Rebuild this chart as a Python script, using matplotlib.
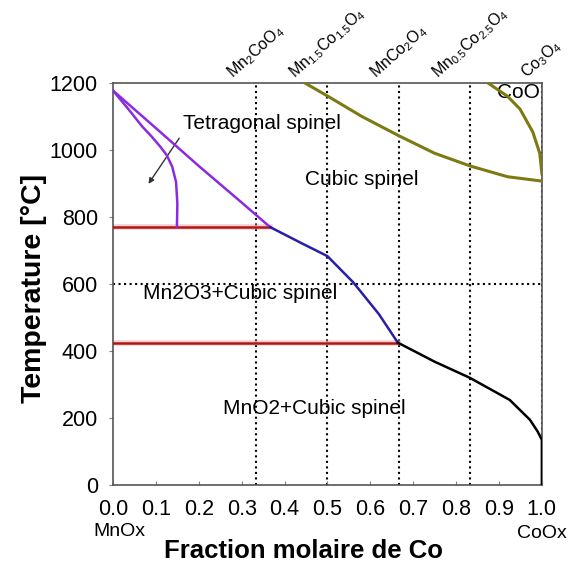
import matplotlib.pyplot as plt

plt.rcParams['font.family'] = ['Liberation Sans', 'DejaVu Sans']
plt.rcParams['mathtext.fontset'] = 'custom'
plt.rcParams['mathtext.rm'] = 'Liberation Sans'
plt.rcParams['mathtext.it'] = 'Liberation Sans:italic'
plt.rcParams['mathtext.bf'] = 'Liberation Sans:bold'

# phase boundaries (x = Co fraction, y = temperature in degC)
tetra_upper_x = [0.0, 0.10, 0.20, 0.30, 0.366]
tetra_upper_y = [1177, 1065, 952, 843, 770]
tetra_lower_x = [0.0, 0.035, 0.068, 0.09, 0.11, 0.125, 0.138, 0.147, 0.150, 0.149]
tetra_lower_y = [1177, 1123, 1070, 1040, 1010, 985, 950, 904, 840, 770]
spinel_x = [0.366, 0.436, 0.50, 0.56, 0.62, 0.664]
spinel_y = [770, 724, 683, 605, 510, 425]
low_x = [0.664, 0.75, 0.832, 0.925, 0.972, 0.99, 1.0, 1.0]
low_y = [425, 368, 320, 254, 195, 160, 135, 0]
coo1_x = [0.447, 0.50, 0.58, 0.667, 0.75, 0.833, 0.92, 1.0]
coo1_y = [1200, 1161, 1100, 1042, 990, 952, 920, 907]
coo2_x = [0.874, 0.92, 0.949, 0.979, 0.995, 1.0]
coo2_y = [1200, 1160, 1122, 1053, 990, 930]

eutectoid_T = [770, 425]
eutectoid_end = [0.366, 0.664]

compound_x = [1/3, 0.5, 2/3, 5/6, 1.0]
compound_labels = [r'Mn$_2$CoO$_4$', r'Mn$_{1.5}$Co$_{1.5}$O$_4$', r'MnCo$_2$O$_4$',
                   r'Mn$_{0.5}$Co$_{2.5}$O$_4$', r'Co$_3$O$_4$']

fig = plt.figure(figsize=(5.68, 5.64), dpi=100)
ax = fig.add_axes([0.199, 0.140, 0.755, 0.713])

for x in compound_x:
    ax.axvline(x, color='black', ls=':', lw=1.5, zorder=1)
ax.axhline(600, color='black', ls=':', lw=1.5, zorder=1)

for T, xe in zip(eutectoid_T, eutectoid_end):
    ax.plot([0, xe], [T, T], color='#f4a0a0', lw=4, alpha=0.5, zorder=2)
    ax.plot([0, xe], [T, T], color='#b01818', lw=1.8, zorder=3)

ax.plot(tetra_upper_x, tetra_upper_y, color='#8a2be2', lw=1.8, zorder=4)
ax.plot(tetra_lower_x, tetra_lower_y, color='#8a2be2', lw=1.8, zorder=4)
ax.plot(spinel_x, spinel_y, color='#2a1ea8', lw=1.8, zorder=4)
ax.plot(low_x, low_y, color='black', lw=1.8, zorder=4)
ax.plot(coo1_x, coo1_y, color='#7d7a12', lw=2.2, zorder=4)
ax.plot(coo2_x, coo2_y, color='#7d7a12', lw=2.2, zorder=4)

ax.annotate('', xy=(0.079, 892), xytext=(0.158, 1042),
            arrowprops=dict(arrowstyle='-|>', color='#333333', lw=1, mutation_scale=8))
ax.text(0.163, 1078, 'Tetragonal spinel', fontsize=15, va='center', ha='left')
ax.text(0.447, 913, 'Cubic spinel', fontsize=15, va='center', ha='left')
ax.text(0.07, 571, 'Mn2O3+Cubic spinel', fontsize=15, va='center', ha='left')
ax.text(0.256, 227, 'MnO2+Cubic spinel', fontsize=15, va='center', ha='left')
ax.text(0.895, 1170, 'CoO', fontsize=15, va='center', ha='left')

ax.set_xlim(0, 1.0)
ax.set_ylim(0, 1200)
ax.set_xticks([i / 10 for i in range(11)])
ax.set_xticklabels([f'{i / 10:.1f}' for i in range(11)], fontsize=15.5)
ax.set_yticks(range(0, 1201, 200))
ax.set_yticklabels([str(v) for v in range(0, 1201, 200)], fontsize=15.5)
ax.tick_params(axis='x', direction='in', length=3, color='gray', pad=10)
ax.tick_params(axis='y', direction='out', length=3, color='gray', pad=8)
for s in ax.spines.values():
    s.set_color('#555555')
    s.set_linewidth(1.2)

ax.set_ylabel('Temperature [°C]', fontsize=20.5, fontweight='bold')
ax.yaxis.set_label_coords(-0.155, 0.488)
ax.set_xlabel('Fraction molaire de Co', fontsize=18.5, fontweight='bold')
ax.xaxis.set_label_coords(0.443, -0.135)
fig.text(93 / 568, 1 - 531 / 564, 'MnOx', fontsize=14, ha='left', va='center')
fig.text(567 / 568, 1 - 533 / 564, 'CoOx', fontsize=14, ha='right', va='center')

top = ax.secondary_xaxis('top')
top.set_xticks(compound_x)
top.set_xticklabels(compound_labels, rotation=42, ha='center', va='bottom', fontsize=11.5)
top.tick_params(length=0, pad=1)
top.spines['top'].set_visible(False)

fig.savefig('out.png', dpi=100)
